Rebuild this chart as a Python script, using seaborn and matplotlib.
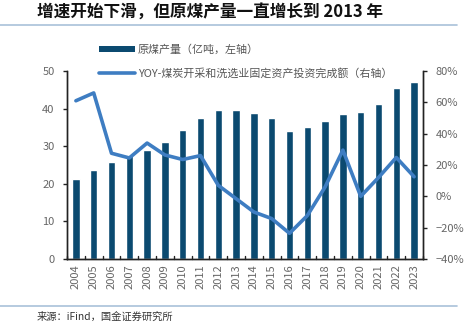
import matplotlib
matplotlib.use("Agg")
import matplotlib.pyplot as plt
import seaborn as sns
import pandas as pd
from matplotlib.lines import Line2D
from matplotlib.patches import Patch

years = [str(y) for y in range(2004, 2024)]
coal_output = [21.2, 23.6, 25.7, 27.6, 29.0, 31.2, 34.3, 37.6, 39.5, 39.7,
               38.7, 37.5, 34.1, 35.2, 36.8, 38.5, 39.0, 41.3, 45.6, 47.1]
invest_yoy = [61.0, 66.0, 27.5, 24.5, 34.0, 26.4, 23.5, 26.0, 7.0, -1.5,
              -10.0, -14.2, -23.6, -12.3, 6.0, 29.5, 0.0, 12.0, 24.8, 12.5]
left_ticks = [0, 10, 20, 30, 40, 50]
right_ticks = [-40, -20, 0, 20, 40, 60, 80]
title = "增速开始下滑，但原煤产量一直增长到 2013 年"
bar_label = "原煤产量（亿吨，左轴）"
line_label = "YOY-煤炭开采和洗选业固定资产投资完成额（右轴）"
source = "来源：iFind，国金证券研究所"

df = pd.DataFrame({"year": years, "output": coal_output, "yoy": invest_yoy})

sns.set_style("white")
plt.rcParams['font.family'] = ['Noto Sans CJK SC', 'DejaVu Sans']

bar_color = "#0B4A70"
line_color = "#3E7DC2"
tick_color = "#666666"

fig = plt.figure(figsize=(4.7, 3.24), dpi=100)
W, H = 470, 324
ax = fig.add_axes([67 / W, 1 - 259 / H, (423 - 67) / W, (259 - 71) / H])

sns.barplot(data=df, x="year", y="output", color=bar_color, width=0.42,
            saturation=1, ax=ax)
ax.set_ylim(0, 50)
ax.set_yticks(left_ticks)
ax.set_xlim(-0.5, len(years) - 0.5)
ax.set_xlabel("")
ax.set_ylabel("")

ax2 = ax.twinx()
sns.lineplot(x=list(range(len(years))), y=invest_yoy, color=line_color,
             linewidth=2.6, ax=ax2)
ax2.set_ylim(-40, 80)
ax2.set_yticks(right_ticks)
ax2.set_yticklabels([f"{t}%".replace("-", "−") for t in right_ticks])
ax2.set_xlim(-0.5, len(years) - 0.5)

for a in (ax, ax2):
    a.spines["top"].set_visible(False)
    for s in ("left", "right", "bottom"):
        a.spines[s].set_color("#222222")
        a.spines[s].set_linewidth(1.0)

ax.tick_params(axis="y", direction="out", length=3, width=1, colors="#222222",
               labelcolor=tick_color, labelsize=8, pad=6)
ax2.tick_params(axis="y", direction="out", length=3, width=1, colors="#222222",
                labelcolor=tick_color, labelsize=8, pad=6)
ax.set_xticks(range(len(years)))
ax.set_xticklabels(years, rotation=90)
ax.tick_params(axis="x", length=0, labelcolor=tick_color, labelsize=8, pad=4)
# small inward ticks between categories
for i in range(len(years) + 1):
    ax.plot([i - 0.5, i - 0.5], [0, 0.8], color="#222222", lw=1, clip_on=False)

handles = [Patch(facecolor=bar_color, edgecolor="none"),
           Line2D([0], [0], color=line_color, lw=2.6)]
fig.legend(handles, [bar_label, line_label], loc="upper left",
           bbox_to_anchor=(94 / W, 1 - 39 / H), frameon=False, fontsize=7.9,
           labelcolor="#555555", handlelength=3.2, handleheight=0.55,
           handletextpad=0.3, labelspacing=1.15, borderpad=0)

fig.text(37 / W, 1 - 13 / H, title, fontsize=12, fontweight="bold",
         fontstyle="italic", va="center", ha="left", color="#111111")
fig.add_artist(Line2D([0, 457 / W], [1 - 25 / H, 1 - 25 / H],
                      color="#A9C1D9", lw=1.2))
fig.add_artist(Line2D([0, 457 / W], [1 - 306 / H, 1 - 306 / H],
                      color="#A9C1D9", lw=1.2))
fig.text(37 / W, 1 - 317 / H, source, fontsize=7.4, va="center", ha="left",
         color="#333333")

fig.savefig("out.png", dpi=100)
